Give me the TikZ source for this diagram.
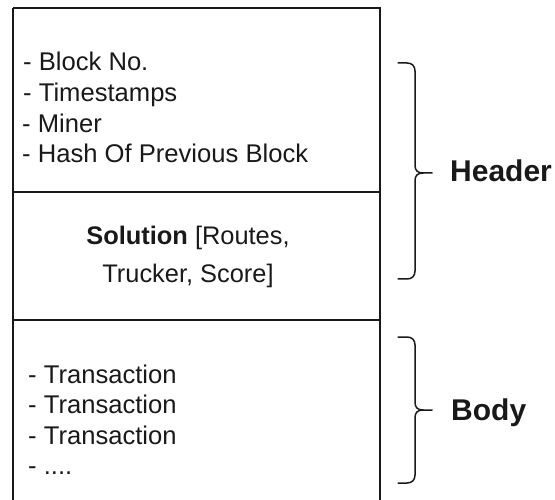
\documentclass[tikz,border=0pt]{standalone}
\usepackage{fontspec}
\setmainfont{Liberation Sans}
\begin{document}
\begin{tikzpicture}[x=1pt,y=-1pt,
  frame/.style={line width=1.8pt,black!90},
  brace/.style={line width=1.5pt,black!90,line cap=round},
  item/.style={inner sep=0pt,anchor=base west,font=\fontsize{25.6}{30}\selectfont,text=black!90},
  centred/.style={inner sep=0pt,anchor=base,font=\fontsize{25.4}{30}\selectfont,text=black!90},
  tag/.style={inner sep=0pt,anchor=base west,font=\fontsize{30}{36}\selectfont\bfseries,text=black!90}]
  \useasboundingbox (0,0) rectangle (555,500);
  \clip (0,0) rectangle (555,500);

  % block outline and compartments
  \draw[frame] (13,8) -- (380,8) -- (380,510);
  \draw[frame] (13,510) -- (13,8);
  \draw[frame] (13,192) -- (380,192);
  \draw[frame] (13,320) -- (380,320);

  % header fields
  \node[item] (blockno) at (23,71)  {- Block No.};
  \node[item] (stamps)  at (23,102) {- Timestamps};
  \node[item] (miner)   at (22,133) {- Miner};
  \node[item] (prevhash) at (22,163) {- Hash Of Previous Block};

  % solution
  \node[centred] (sol1) at (188,245) {\textbf{Solution} [Routes,};
  \node[centred] (sol2) at (188,283) {Trucker, Score]};

  % body
  \node[item] (tx1) at (28,383) {- Transaction};
  \node[item] (tx2) at (28,413) {- Transaction};
  \node[item] (tx3) at (28,444) {- Transaction};
  \node[item] (txmore) at (28,474) {- ....};

  % header brace
  \draw[brace] (398,63) -- (407,63) .. controls (412,63) and (415,66) .. (415,71)
    -- (415,165) .. controls (415,170) and (417,173) .. (423,173) -- (432,173);
  \draw[brace] (423,173) .. controls (417,173) and (415,176) .. (415,181)
    -- (415,271) .. controls (415,276) and (412,279) .. (407,279) -- (398,279);
  \node[tag] (header) at (450,182) {Header};

  % body brace
  \draw[brace] (398,337) -- (407,337) .. controls (412,337) and (415,340) .. (415,345)
    -- (415,402) .. controls (415,407) and (417,410) .. (423,410) -- (432,410);
  \draw[brace] (423,410) .. controls (417,410) and (415,413) .. (415,418)
    -- (415,475) .. controls (415,480) and (412,483) .. (407,483) -- (398,483);
  \node[tag] (body) at (451,420) {Body};
\end{tikzpicture}
\end{document}
